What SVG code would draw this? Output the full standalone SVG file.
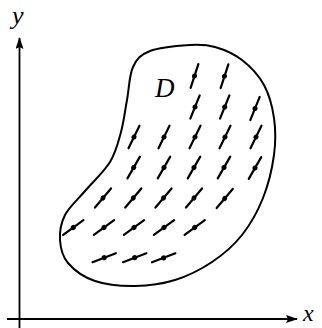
<svg xmlns="http://www.w3.org/2000/svg" xmlns:xlink="http://www.w3.org/1999/xlink" width="322" height="328" viewBox="0 0 322 328">
<style>
.ax{stroke:#000;stroke-width:1.8;fill:none}
.outline{stroke:#000;stroke-width:2;fill:none}
.lbl{font-family:"Liberation Serif","DejaVu Serif",serif;font-style:italic;font-size:26px;fill:#000}
</style>
<defs>
<marker id="arr" markerWidth="12" markerHeight="8" refX="11" refY="4" orient="auto" markerUnits="userSpaceOnUse">
<path d="M0,0 L12,4 L0,8 L2,4 Z" fill="#000"/>
</marker>
<g id="seg">
<line x1="-12.5" y1="0" x2="12.5" y2="0" stroke="#000" stroke-width="2.2" stroke-linecap="round"/>
<circle cx="0" cy="0" r="2.5" fill="#000"/>
</g>
</defs>
<rect width="322" height="328" fill="#fff"/>
<g id="axes">
<line class="ax" x1="19.5" y1="328" x2="19.5" y2="38" marker-end="url(#arr)"/>
<line class="ax" x1="7" y1="319" x2="297" y2="319" marker-end="url(#arr)"/>
<text class="lbl" x="12" y="24">y</text>
<text class="lbl" x="303" y="321" style="font-size:24px">x</text>
</g>
<g id="region-D">
<path class="outline" d="M190,45 C179.2,45.7 159.5,47.3 150,51 C140.5,54.7 136.8,58.8 133,67 C129.2,75.2 129,89.2 127,100 C125,110.8 123.8,121.7 121,132 C118.2,142.3 116,152.2 110,162 C104,171.8 92.5,182.2 85,191 C77.5,199.8 69.2,206.8 65,215 C60.8,223.2 59.5,232 60,240 C60.5,248 62.2,256.2 68,263 C73.8,269.8 83.8,277.2 95,281 C106.2,284.8 121.7,286.2 135,286 C148.3,285.8 162.2,284 175,280 C187.8,276 200.8,269.5 212,262 C223.2,254.5 233.5,245.7 242,235 C250.5,224.3 257.7,211.3 263,198 C268.3,184.7 272.2,168.3 274,155 C275.8,141.7 275.7,129.7 274,118 C272.3,106.3 269.3,94.7 264,85 C258.7,75.3 250.2,66.3 242,60 C233.8,53.7 223.7,49.5 215,47 C206.3,44.5 200.8,44.3 190,45 Z"/>
<text class="lbl" x="155" y="97" style="font-size:27px">D</text>
</g>
<g id="slope-field">
<use xlink:href="#seg" transform="translate(194.5,76) rotate(-72)"/>
<use xlink:href="#seg" transform="translate(224.5,76.3) rotate(-72)"/>

<use xlink:href="#seg" transform="translate(195,107) rotate(-68)"/>
<use xlink:href="#seg" transform="translate(224.7,107) rotate(-68)"/>
<use xlink:href="#seg" transform="translate(255,108.5) rotate(-68)"/>

<use xlink:href="#seg" transform="translate(134,137) rotate(-64)"/>
<use xlink:href="#seg" transform="translate(164,137) rotate(-64)"/>
<use xlink:href="#seg" transform="translate(195,137) rotate(-64)"/>
<use xlink:href="#seg" transform="translate(225,137) rotate(-64)"/>
<use xlink:href="#seg" transform="translate(256,137) rotate(-64)"/>

<use xlink:href="#seg" transform="translate(133.7,167.5) rotate(-60)"/>
<use xlink:href="#seg" transform="translate(164,167.5) rotate(-60)"/>
<use xlink:href="#seg" transform="translate(194,167.5) rotate(-60)"/>
<use xlink:href="#seg" transform="translate(224,167.5) rotate(-60)"/>
<use xlink:href="#seg" transform="translate(255,168) rotate(-60)"/>

<use xlink:href="#seg" transform="translate(103,198) rotate(-50)"/>
<use xlink:href="#seg" transform="translate(133.3,198) rotate(-50)"/>
<use xlink:href="#seg" transform="translate(163.5,198) rotate(-50)"/>
<use xlink:href="#seg" transform="translate(194,198) rotate(-50)"/>
<use xlink:href="#seg" transform="translate(224.7,198.5) rotate(-50)"/>

<use xlink:href="#seg" transform="translate(73.3,227.5) rotate(-36)"/>
<use xlink:href="#seg" transform="translate(104,227.5) rotate(-36)"/>
<use xlink:href="#seg" transform="translate(134,227.5) rotate(-36)"/>
<use xlink:href="#seg" transform="translate(164,227.5) rotate(-36)"/>
<use xlink:href="#seg" transform="translate(194.7,227.5) rotate(-36)"/>

<use xlink:href="#seg" transform="translate(104.2,257.7) rotate(-21)"/>
<use xlink:href="#seg" transform="translate(134.7,257.7) rotate(-21)"/>
<use xlink:href="#seg" transform="translate(163.7,257.8) rotate(-21)"/>
</g>
</svg>
